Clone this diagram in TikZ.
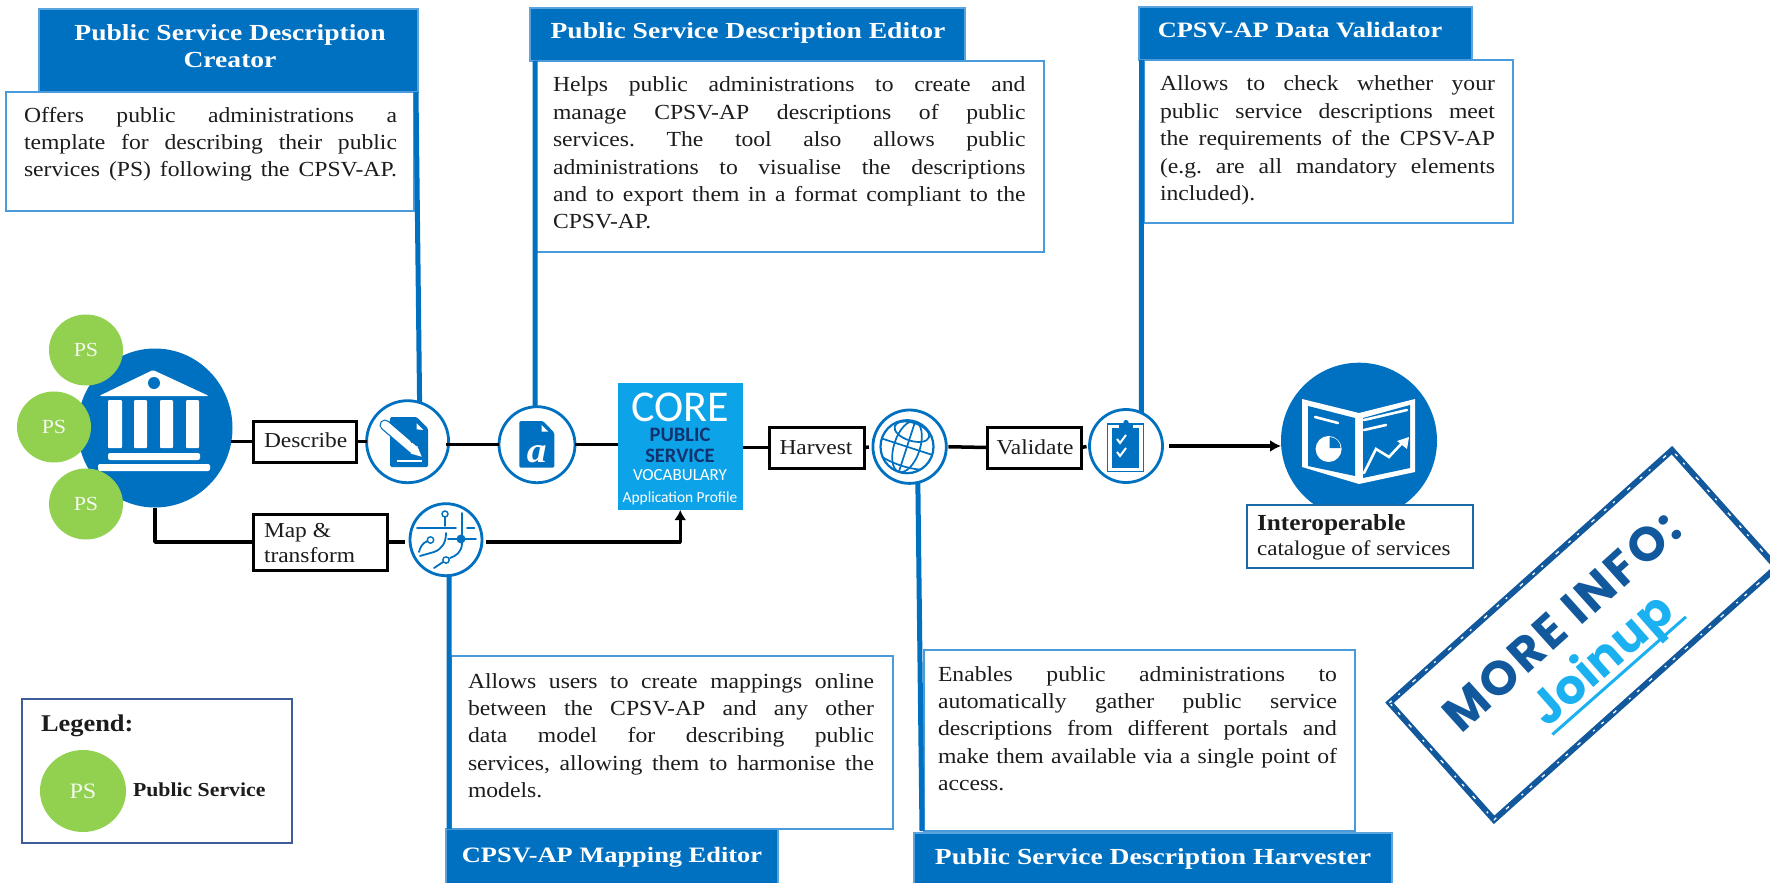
\documentclass[tikz,border=0pt]{standalone}
\usepackage{fontspec}
\setmainfont[FakeStretch=1.1]{Liberation Serif}
\newfontfamily\hdrfont[FakeStretch=1.2]{Liberation Serif}
\newfontfamily\corefont{Carlito}
\newfontfamily\stampfont[LetterSpace=6]{Poppins}
\newfontfamily\joinfont[LetterSpace=1]{Poppins}
\usetikzlibrary{arrows.meta,calc}
\definecolor{hblue}{HTML}{0070C0}
\definecolor{hedge}{HTML}{5BA3DC}
\definecolor{dedge}{HTML}{4A9BDC}
\definecolor{pgreen}{HTML}{92D050}
\definecolor{corebg}{HTML}{0DA3E8}
\definecolor{corenavy}{HTML}{12336F}
\definecolor{stampblue}{HTML}{11589C}
\definecolor{stamplight}{HTML}{1BB1F0}
\definecolor{legedge}{HTML}{3F5C9A}
\definecolor{ink}{HTML}{1C1C1C}
\newdimen\linew
\newcommand{\jl}[1]{\hbox to \linew{#1}}
\newcommand{\sz}[1]{\fontsize{#1}{#1}\selectfont}
\newcommand{\para}[2]{{\linew=#1\sz{21.5}\frenchspacing\vtop{\baselineskip=27.4pt\lineskiplimit=-100pt #2}}}
\tikzset{
  hdr/.style={fill=hblue,draw=hedge,line width=1.2pt,anchor=north west,inner sep=0,outer sep=0},
  descbox/.style={fill=white,draw=dedge,line width=2pt,anchor=north west,inner sep=0,outer sep=0},
  hdrtext/.style={text=white,font=\hdrfont\sz{23}\bfseries,inner sep=0,outer sep=0,anchor=base},
  hdrcaps/.style={text=white,font=\hdrfont\sz{22}\bfseries,inner sep=0,outer sep=0,anchor=base},
  bodytext/.style={text=ink,inner sep=0,outer sep=0,anchor=base west},
  conn/.style={hblue,line width=5pt},
  flow/.style={black,line width=3.5pt},
  flowbox/.style={fill=white,draw=black,line width=3pt,anchor=north west,inner sep=0,outer sep=0},
  flowtext/.style={text=ink,font=\sz{21.3},inner sep=0,outer sep=0,anchor=base west},
  ring/.style={circle,draw=hblue,fill=white,line width=2.8pt,inner sep=0,outer sep=0},
  ps/.style={ellipse,fill=pgreen,inner sep=0,outer sep=0},
  pstext/.style={text=white!90!pgreen,font=\sz{20},inner sep=0,outer sep=0},
  coretext/.style={font=\corefont,inner sep=0,outer sep=0,anchor=base},
  ic/.style={hblue,line width=1.8pt,line cap=round},
}
\usetikzlibrary{shapes.geometric}
\begin{document}
\begin{tikzpicture}[x=1pt,y=-1pt]
\fill[white] (0,0) rectangle (1770,883);
\useasboundingbox (0,0) rectangle (1770,883);

% --- description blocks
\node[hdr,minimum width=379pt,minimum height=83pt] (h1) at (39,9) {};
\node[descbox,minimum width=408pt,minimum height=119pt] (d1) at (6,92) {};
\node[hdrtext] (h1a) at (230,41) {Public Service Description};
\node[hdrtext] (h1b) at (230,68) {Creator};
\node[bodytext] (t1) at (24,122) {\para{373pt}{%
 \jl{Offers public administrations a}
 \jl{template for describing their public}
 \jl{services (PS) following the CPSV-AP.}}};

\node[hdr,minimum width=435pt,minimum height=53pt] (h2) at (530,8) {};
\node[descbox,minimum width=509pt,minimum height=191pt] (d2) at (535,61) {};
\node[hdrtext] (h2a) at (748,39) {Public Service Description Editor};
\node[bodytext] (t2) at (553,92) {\para{472.5pt}{%
 \jl{Helps public administrations to create and}
 \jl{manage CPSV-AP descriptions of public}
 \jl{services. The tool also allows public}
 \jl{administrations to visualise the descriptions}
 \jl{and to export them in a format compliant to the}
 \jl{CPSV-AP.\hfil}}};

\node[hdr,minimum width=333pt,minimum height=53pt] (h3) at (1139,7) {};
\node[descbox,minimum width=369pt,minimum height=163pt] (d3) at (1144,60) {};
\node[hdrcaps] (h3a) at (1300,38) {CPSV-AP Data Validator};
\node[bodytext] (t3) at (1160,91) {\para{335pt}{%
 \jl{Allows to check whether your}
 \jl{public service descriptions meet}
 \jl{the requirements of the CPSV-AP}
 \jl{(e.g. are all mandatory elements}
 \jl{included).\hfil}}};

\node[hdr,minimum width=332pt,minimum height=56pt] (h4) at (446,829) {};
\node[descbox,minimum width=442pt,minimum height=173pt] (d4) at (451,656) {};
\node[hdrcaps] (h4a) at (612,862) {CPSV-AP Mapping Editor};
\node[bodytext] (t4) at (468,688) {\para{406pt}{%
 \jl{Allows users to create mappings online}
 \jl{between the CPSV-AP and any other}
 \jl{data model for describing public}
 \jl{services, allowing them to harmonise the}
 \jl{models.\hfil}}};

\node[hdr,minimum width=478pt,minimum height=52pt] (h5) at (914,833) {};
\node[descbox,minimum width=431pt,minimum height=181pt] (d5) at (924,650) {};
\node[hdrtext] (h5a) at (1153,864) {Public Service Description Harvester};
\node[bodytext] (t5) at (938,681) {\para{399pt}{%
 \jl{Enables public administrations to}
 \jl{automatically gather public service}
 \jl{descriptions from different portals and}
 \jl{make them available via a single point of}
 \jl{access.\hfil}}};

% --- institution
\node[ellipse,fill=hblue,minimum width=155pt,minimum height=159pt,inner sep=0,outer sep=0] (inst) at (155,428) {};
\fill[white,rounded corners=1.5pt] (153,370) -- (209,396) -- (99,396) -- cycle;
\fill[hblue] (154,383) circle (6);
\foreach \xa/\xb in {108/122,134/147,160/173,186/199}
  \fill[white,rounded corners=1pt] (\xa,400) rectangle (\xb,448);
\fill[white,rounded corners=2pt] (108,453) rectangle (200,460);
\fill[white,rounded corners=2pt] (98,464) rectangle (210,471);
\node[ps,minimum width=74pt,minimum height=71pt] (ps1) at (86,350) {};
\node[ps,minimum width=74pt,minimum height=71pt] (ps2) at (54,427) {};
\node[ps,minimum width=74pt,minimum height=71pt] (ps3) at (86,504) {};
\node[pstext] (ps1t) at (ps1) {PS};
\node[pstext] (ps2t) at (ps2) {PS};
\node[pstext] (ps3t) at (ps3) {PS};

% --- flow boxes
\node[flowbox,minimum width=103pt,minimum height=41pt] (describe) at (253,421) {};
\node[flowtext] (describet) at (264,447) {Describe};
\node[flowbox,minimum width=134pt,minimum height=56pt] (maptr) at (253,514) {};
\node[flowtext] (maptra) at (264,537) {Map \&};
\node[flowtext] (maptrb) at (264,562) {transform};
\node[flowbox,minimum width=95pt,minimum height=41pt] (harvest) at (769,427) {};
\node[flowtext] (harvestt) at (816,454) [anchor=base] {Harvest};
\node[flowbox,minimum width=94pt,minimum height=41pt] (validate) at (987,427) {};
\node[flowtext] (validatet) at (1035,454) [anchor=base] {Validate};

% --- core
\node[fill=corebg,minimum width=125.5pt,minimum height=127pt,anchor=north west,inner sep=0,outer sep=0] (core) at (617.5,383) {};
\node[coretext,text=white,font=\corefont\sz{44}] (c1) at (680,421.7) {CORE};
\node[coretext,text=corenavy,font=\corefont\bfseries\sz{20.5}] (c2) at (680,441.7) {PUBLIC};
\node[coretext,text=corenavy,font=\corefont\bfseries\sz{20.5}] (c3) at (680,462.7) {SERVICE};
\node[coretext,text=white,font=\corefont\sz{17}] (c4) at (680,480.7) {VOCABULARY};
\node[coretext,text=white,font=\corefont\sz{15.4}] (c5) at (680,502) {Application Profile};

% --- rings
\node[ring,minimum size=82pt] (pen) at (407.6,441.7) {};
\node[ring,minimum size=76pt] (aicon) at (537,444.7) {};
\node[ring,minimum size=72pt] (mapicon) at (446,539.7) {};
\node[ring,minimum size=73.4pt] (globe) at (909.6,446.7) {};
\node[ring,minimum size=73pt] (check) at (1126,446) {};

% pen icon
\fill[hblue,rounded corners=1.5pt] (390,417) -- (416.7,417) -- (428,428.3) -- (428,467) -- (390,467) -- cycle;
\fill[white] (416.7,423.3) -- (423.3,430) -- (416.7,429.3) -- cycle;
\draw[white,line width=2pt] (396.7,460.7) -- (421.7,460.7);
\draw[hblue,line width=11pt,line cap=round] (385,425) -- (413,449);
\draw[white,line width=8.5pt,line cap=round] (385,425) -- (413,449);
\fill[white] (410.5,453.5) -- (417,445.5) -- (421.7,456.7) -- cycle;
\draw[hblue,line width=1pt] (389,422) .. controls (400,427) and (408,435) .. (412,443);

% a icon
\fill[hblue,rounded corners=1.5pt] (519.3,421) -- (543,421) -- (554.3,432.7) -- (554.3,467.7) -- (519.3,467.7) -- cycle;
\fill[white] (541.7,425) -- (548.3,431.7) -- (541.7,431.7) -- cycle;
\node[text=white,font=\sz{36}\bfseries\itshape,inner sep=0,outer sep=0,anchor=base] (aglyph) at (536.7,462) {a};

% mapping icon
\begin{scope}[ic]
\draw[line width=1.4pt] (445,514) circle (3);
\draw (445,517.5) -- (445,526);
\draw (417,528) -- (456,528);
\draw (462,513) -- (462,543) .. controls (462,552) and (456,556) .. (450,558);
\draw (467,528) -- (474.5,528);
\draw (448,539) -- (476,539);
\fill[hblue] (461,539) circle (4.5);
\draw[line width=1.4pt] (446,560) circle (3.2);
\draw (443,562) -- (434,568);
\draw[line width=1.4pt] (430.5,540) circle (3.2);
\draw (427.5,541) .. controls (422,543) and (420,548) .. (419,552);
\draw (446,533) .. controls (446,543) and (442,549) .. (434,552) -- (420,556);
\end{scope}

% globe icon
\begin{scope}
\draw[hblue,line width=2.2pt] (907,446.7) circle (26.5);
\clip (907,446.7) circle (26.5);
\draw[hblue,line width=1.7pt,rotate around={-18:(907,446.7)}] (907,446.7) ellipse (13 and 26.5);
\draw[hblue,line width=1.7pt,rotate around={-18:(907,446.7)}] (880,446.7) -- (934,446.7);
\draw[hblue,line width=1.7pt,rotate around={-18:(907,446.7)}] (880,462) .. controls (895,468) and (920,468) .. (934,462);
\draw[hblue,line width=1.7pt,rotate around={-18:(907,446.7)}] (907,420) -- (907,474);
\draw[hblue,line width=1.7pt,rotate around={-18:(907,446.7)}] (907,431) ellipse (18 and 9);
\end{scope}

% clipboard icon
\draw[hblue,line width=1.3pt] (1107.5,424) rectangle (1143.8,471.7);
\fill[hblue] (1112,428) rectangle (1139,468);
\fill[hblue] (1119,424) rectangle (1133,429);
\fill[hblue] (1126,422.5) circle (2.6);
\draw[white,line width=2pt] (1117,439) -- (1120,443) -- (1126,435);
\draw[white,line width=2pt] (1117,452) -- (1120,456) -- (1126,448);

% --- interoperable
\node[circle,fill=hblue,minimum size=156pt,inner sep=0,outer sep=0] (cat) at (1359,440.7) {};
\fill[white] (1302,399) -- (1359,413) -- (1415,399) -- (1415,472) -- (1359,484) -- (1302,467) -- cycle;
\fill[hblue] (1308,406) -- (1355,418) -- (1355,476) -- (1308,466) -- cycle;
\fill[hblue] (1363,418) -- (1410,405) -- (1410,468) -- (1363,478) -- cycle;
\draw[white,line width=2.6pt,line cap=round] (1315,417) -- (1338,423);
\draw[white,line width=2.6pt,line cap=round] (1364,420) -- (1407,410);
\draw[white,line width=2.6pt,line cap=round] (1364,430) -- (1386,425);
\fill[white] (1328.6,449) circle (13);
\fill[hblue] (1329.5,448) -- (1329.5,437) arc (-90:0:11) -- cycle;
\draw[white,line width=2.6pt,line cap=round] (1364,473) -- (1376,449) -- (1389,457) -- (1402,443);
\fill[white] (1409,437) -- (1407,449) -- (1397,441) -- cycle;
\node[fill=white,draw=hblue!80!black!90,line width=2.4pt,minimum width=225.7pt,minimum height=62.7pt,anchor=north west,inner sep=0,outer sep=0] (catbox) at (1247,505) {};
\node[bodytext,font=\sz{23}\bfseries] (cata) at (1257,530) {Interoperable};
\node[bodytext,font=\sz{21}] (catb) at (1257,555) {catalogue of services};

% --- flow connectors
\draw[flow,shorten <=-2pt] (inst.east |- describe.west) -- (describe.west);
\draw[flow] (describe.east) -- (pen.west |- describe.east);
\draw[flow,shorten <=-3pt] (pen.east |- aicon.west) -- (aicon.west);
\draw[flow] (aicon.east) -- (aicon.east -| core.west);
\draw[flow] (harvest.west -| core.east) -- (harvest.west);
\draw[flow,shorten >=4pt] (harvest.east) -- (globe.west);
\draw[flow,shorten <=2pt] (globe.east) -- (validate.west);
\draw[flow,shorten >=3pt] (validate.east) -- (check.west);
\draw[flow,shorten <=6pt,-{Latex[length=11pt,width=12pt]}] (check.east) -- (cat.west |- check.east);
\coordinate (elbow) at (inst.south |- maptr.west);
\draw[flow,line join=round] (inst.south) -- (elbow) -- (maptr.west);
\draw[flow,shorten >=5pt] (maptr.east) -- (maptr.east -| mapicon.west);
\coordinate (corner) at (core.south |- maptr.east);
\draw[flow,shorten <=4pt,line join=round,-{Latex[length=10pt,width=12pt]}] (maptr.east -| mapicon.east) -- (corner) -- (core.south);

% --- blue connectors
\draw[conn] ([xshift=2pt]d1.north east) -- (pen.73);
\draw[conn] (d2.north west) -- (aicon.93);
\draw[conn] ([xshift=-2.5pt]d3.north west) -- (check.65);
\draw[conn] (mapicon.-85) -- ([xshift=-2pt]d4.south west);
\draw[conn] (globe.-77) -- ([xshift=-2pt]d5.south west);

% --- legend
\node[draw=legedge,fill=white,line width=1.6pt,minimum width=270pt,minimum height=144pt,anchor=north west,inner sep=0,outer sep=0] (legend) at (22,699) {};
\node[bodytext,font=\sz{24}\bfseries] (legt) at (41,731) {Legend:};
\node[ellipse,fill=pgreen,minimum width=86pt,minimum height=82pt,inner sep=0,outer sep=0] (legps) at (83,791) {};
\node[pstext,font=\sz{22}] (legpst) at (legps) {PS};
\node[bodytext,font=\sz{19.8}\bfseries] (legl) at (133,796) {Public Service};

% --- stamp
\node[rotate=41.8,draw=stampblue,line width=6pt,minimum width=379pt,minimum height=157pt,inner sep=0,outer sep=0] (stamp) at (1583,635) {};
\draw[white,line width=1.3pt,dash pattern=on 3pt off 9pt on 2pt off 17pt on 4pt off 13pt]
  (stamp.north west) -- (stamp.north east) -- (stamp.south east) -- (stamp.south west) -- cycle;
\node[rotate=42,text=stampblue,font=\stampfont\bfseries\sz{48},inner sep=0,outer sep=0,anchor=base] (more) at (1573,634) {MORE INFO:};
\node[rotate=41.4,text=stamplight,font=\joinfont\bfseries\sz{48},inner sep=0,outer sep=0,anchor=base] (joinup) at (1612,672) {\rlap{\rule[-9pt]{178pt}{3pt}}Joinup};
\end{tikzpicture}
\end{document}
